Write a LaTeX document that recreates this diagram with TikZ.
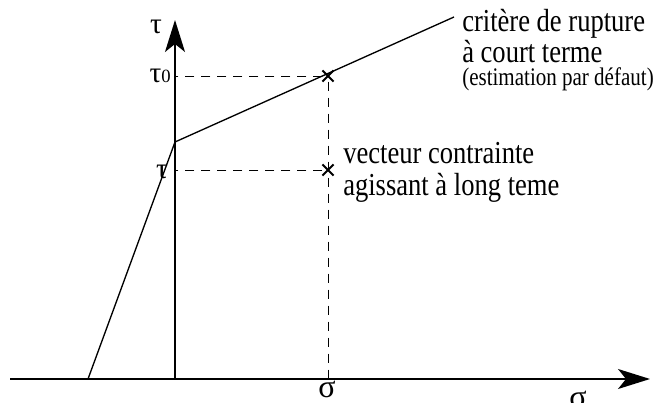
\documentclass[tikz,border=0pt]{standalone}
\usepackage{fontspec}
\setmainfont[FakeStretch=0.83]{Liberation Serif}
\newfontfamily\greekfont{Liberation Serif}
\usetikzlibrary{arrows.meta,positioning,shapes.misc}

\begin{document}
\begin{tikzpicture}[x=0.75pt,y=-0.75pt,
axis/.style={line width=1.2pt,-{Stealth[length=24pt,width=15pt,inset=6pt]}},
guide/.style={dash pattern=on 7pt off 5pt,line width=0.6pt},
crit/.style={line width=1pt},
cross/.style={draw,cross out,line width=1.4pt,minimum size=7pt,inner sep=0pt},
lbl/.style={font=\fontsize{24}{24}\selectfont,anchor=base west,inner sep=0pt},
note/.style={font=\fontsize{19}{19}\selectfont,anchor=base west,inner sep=0pt},
greek/.style={font=\greekfont\fontsize{22}{22}\selectfont,anchor=base,inner sep=0pt}]
\useasboundingbox (0,0) rectangle (657,403);
% axes
\coordinate (origin) at (175,379);
\coordinate (west) at (10,379);
\coordinate (east) at (650,379);
\coordinate (top) at (175,20);
\draw[axis] (west) -- (east);
\draw[axis] (origin) -- (top);
% failure criterion
\coordinate (foot) at (88,379);
\coordinate (knee) at (175,142);
\coordinate (far) at (454,17);
\draw[crit] (foot) -- (knee) -- (far);
% stress points
\node[cross] (short) at (328,76) {};
\node[cross] (long) at (328,170) {};
\draw[guide] (short) -- (short |- origin);
\draw[guide] (short) -- (short -| origin);
\draw[guide] (long) -- (long -| origin);
% axis labels
\node[greek] (tauaxis) at (156,34) {τ};
\node[greek,anchor=base east] (tauzero) at (171,83) {τ{\fontsize{14}{14}\selectfont 0}};
\node[greek] (tau) at (162,178) {τ};
\node[greek,font=\greekfont\fontsize{24}{24}\selectfont] (sigma) at (327,397) {σ};
\node[greek,font=\greekfont\fontsize{24}{24}\selectfont] (sigmaaxis) at (578,407) {σ};
% texts
\node[lbl] (rupture) at (462,32) {critère de rupture};
\node[lbl] (term) at (462,63) {à court terme};
\node[note] (default) at (462,86) {(estimation par défaut)};
\node[lbl] (vector) at (343,163) {vecteur contrainte};
\node[lbl] (acting) at (343,195) {agissant à long teme};
\end{tikzpicture}
\end{document}
